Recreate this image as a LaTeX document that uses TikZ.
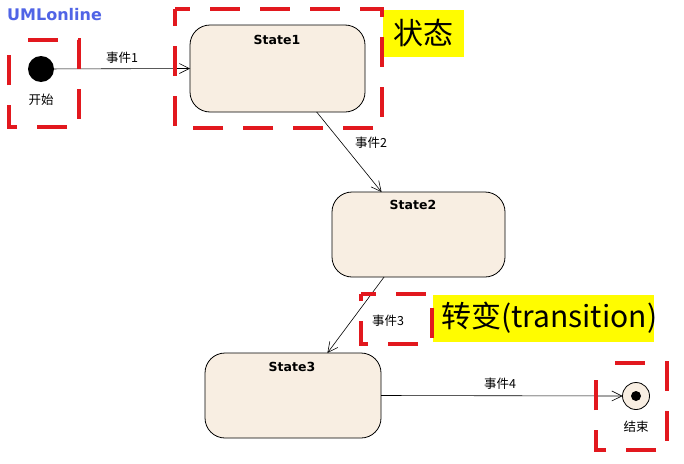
\documentclass[tikz,border=0pt]{standalone}
\usepackage{fontspec}
\usetikzlibrary{arrows.meta}
\newfontfamily\cjk{Noto Sans CJK SC}
\newfontfamily\dvs{DejaVu Sans}
\definecolor{statefill}{RGB}{248,238,226}
\definecolor{umlblue}{RGB}{80,100,230}
\definecolor{boxred}{RGB}{226,24,30}
\definecolor{hlyellow}{RGB}{255,252,0}
\begin{document}
\begin{tikzpicture}[x=1pt,y=-1pt,
  state/.style={draw=black, line width=0.8pt, fill=statefill, rounded corners=20pt, minimum width=175pt, minimum height=86pt, inner sep=0pt, outer sep=0pt},
  stname/.style={font=\dvs\bfseries\fontsize{12.5}{14}\selectfont, inner sep=0pt},
  evt/.style={font=\cjk\fontsize{12.5}{14}\selectfont, inner sep=0pt},
  arr/.style={draw, line width=0.6pt, -{Straight Barb[length=10pt,width=10pt,line width=0.6pt]}},
  redbox/.style={draw=boxred, line width=3.5pt, dash pattern=on 30pt off 20pt},
  hl/.style={fill=hlyellow, inner sep=0pt},
  hltext/.style={inner sep=0pt, font=\cjk\fontsize{30}{34}\selectfont}
]
\useasboundingbox[fill=white] (0,0) rectangle (684,463);

\node[anchor=west, text=umlblue, font=\dvs\bfseries\fontsize{16}{18}\selectfont, inner sep=0pt] (logo) at (7,15) {UMLonline};

% states
\node[state, minimum width=175pt, minimum height=87pt] (s1) at (277.5,68.5) {};
\node[stname] (s1n) at (277,40) {State1};
\node[state, minimum width=173pt, minimum height=85pt] (s2) at (418.5,234.5) {};
\node[stname] (s2n) at (413,205) {State2};
\node[state, minimum width=176pt, minimum height=85pt] (s3) at (293,395.5) {};
\node[stname] (s3n) at (292,367) {State3};

% pseudo states
\node[circle, fill=black, minimum size=26pt, inner sep=0pt, outer sep=0pt] (start) at (41,69) {};
\node[font=\cjk\fontsize{12.5}{14}\selectfont, inner sep=0pt] (startl) at (41,100) {开始};
\node[circle, draw=black, line width=0.8pt, fill=statefill, minimum size=27pt, inner sep=0pt, outer sep=0pt] (end) at (636,396) {};
\fill[black] (end.center) circle (5pt);
\node[font=\cjk\fontsize{12.5}{14}\selectfont, inner sep=0pt] (endl) at (636,427) {结束};

% transitions
\draw[arr] (start) -- (s1.west);
\draw[arr] (s1.-48.5) -- (s2.131.4);
\draw[arr] (s2.-129.9) -- (s3.51.3);
\draw[arr] (s3.east) -- (end.west);

\node[evt] (e1) at (122,58) {事件1};
\node[evt] (e2) at (371,143) {事件2};
\node[evt] (e3) at (388,321) {事件3};
\node[evt] (e4) at (500,384) {事件4};

% highlights
\node[hl, minimum width=81pt, minimum height=47pt] (hl1) at (423.5,33.5) {};
\node[hltext] (hl1t) at (423,33) {状态};
\node[hl, minimum width=221pt, minimum height=47pt] (hl2) at (543,318.5) {};
\node[hltext, anchor=west] (hl2t) at (441,318) {转变(transition)};

% red dashed boxes
\draw[redbox, dash phase=31pt] (9,40) -- (79,40) -- (79,127) -- (9,127) -- cycle;
\draw[redbox, dash phase=15pt] (175,9) -- (382,9) -- (382,128) -- (175,128) -- cycle;
\draw[redbox, dash phase=15pt] (361,294) -- (432,294) -- (432,344) -- (361,344) -- cycle;
\draw[redbox, dash phase=31pt] (596,363) -- (667,363) -- (667,450) -- (596,450) -- cycle;
\end{tikzpicture}
\end{document}
